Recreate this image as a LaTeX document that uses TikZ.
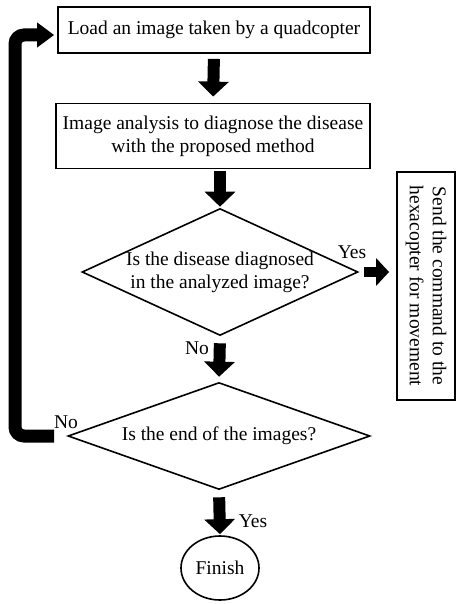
\documentclass[tikz,border=0pt]{standalone}
\usepackage{fontspec}
\setmainfont{Liberation Serif}
\usetikzlibrary{shapes.geometric,arrows.meta}

\begin{document}
\begin{tikzpicture}[x=1pt, y=-1pt, font=\fontsize{19.5}{23}\selectfont]
        \tikzstyle{process}=[draw, line width=1.8pt, inner sep=0pt, align=center]
        \tikzstyle{decision}=[draw, diamond, line width=1.6pt, inner sep=0pt]
        \tikzstyle{bigarrow}=[line width=12pt, -{Triangle[width=30pt,length=15pt]}]
        \tikzstyle{sidearrow}=[line width=10pt, -{Triangle[width=27pt,length=13pt]}]
        \tikzstyle{loopline}=[line width=13pt, rounded corners=9pt, -{Triangle[width=24pt,length=17pt]}]
        \useasboundingbox (0,0) rectangle (459,604);
        \node [process, minimum width=312pt, minimum height=46pt] (load) at (214,30) {Load an image taken by a quadcopter};
        \node [process, minimum width=314pt, minimum height=65pt] (analysis) at (213,136) {Image analysis to diagnose the disease\\with the proposed method};
        \node [decision, minimum width=276pt, minimum height=127pt] (dec1) at (220,272) {};
        \node [align=center] (dec1text) at (dec1) {Is the disease diagnosed\\in the analyzed image?};
        \node [process, rotate=-90, minimum width=228pt, minimum height=58pt] (send) at (426,286) {Send the command to the\\hexacopter for movement};
        \node [decision, minimum width=302pt, minimum height=107pt] (dec2) at (219,436) {};
        \node (dec2text) at (dec2) {Is the end of the images?};
        \node [draw, ellipse, line width=1.6pt, minimum width=78pt, minimum height=64pt, inner sep=0pt] (finish) at (220,568) {Finish};
        \coordinate (corner) at (15,436);
        % connectors
        \draw [bigarrow, shorten <=5pt, shorten >=6pt] (load.south) -- (analysis.north);
        \draw [bigarrow, shorten <=2pt, shorten >=1pt] (analysis.south -| dec1.north) -- (dec1.north);
        \draw [bigarrow, shorten <=7pt, shorten >=5pt] (dec1.south) -- (dec2.north);
        \draw [bigarrow, shorten <=7pt, shorten >=1pt] (dec2.south) -- (finish.north);
        \draw [sidearrow, shorten <=5pt, shorten >=7pt] (dec1.east) -- (dec1.east -| send.south);
        \draw [loopline, shorten <=13pt, shorten >=3pt] (dec2.west) -- (corner) |- ([yshift=-5pt]load.west);
        % labels
        \node (yes1) at (352,252) {Yes};
        \node (no1) at (197,348) {No};
        \node (no2) at (66,422) {No};
        \node (yes2) at (253,521) {Yes};
\end{tikzpicture}
\end{document}
